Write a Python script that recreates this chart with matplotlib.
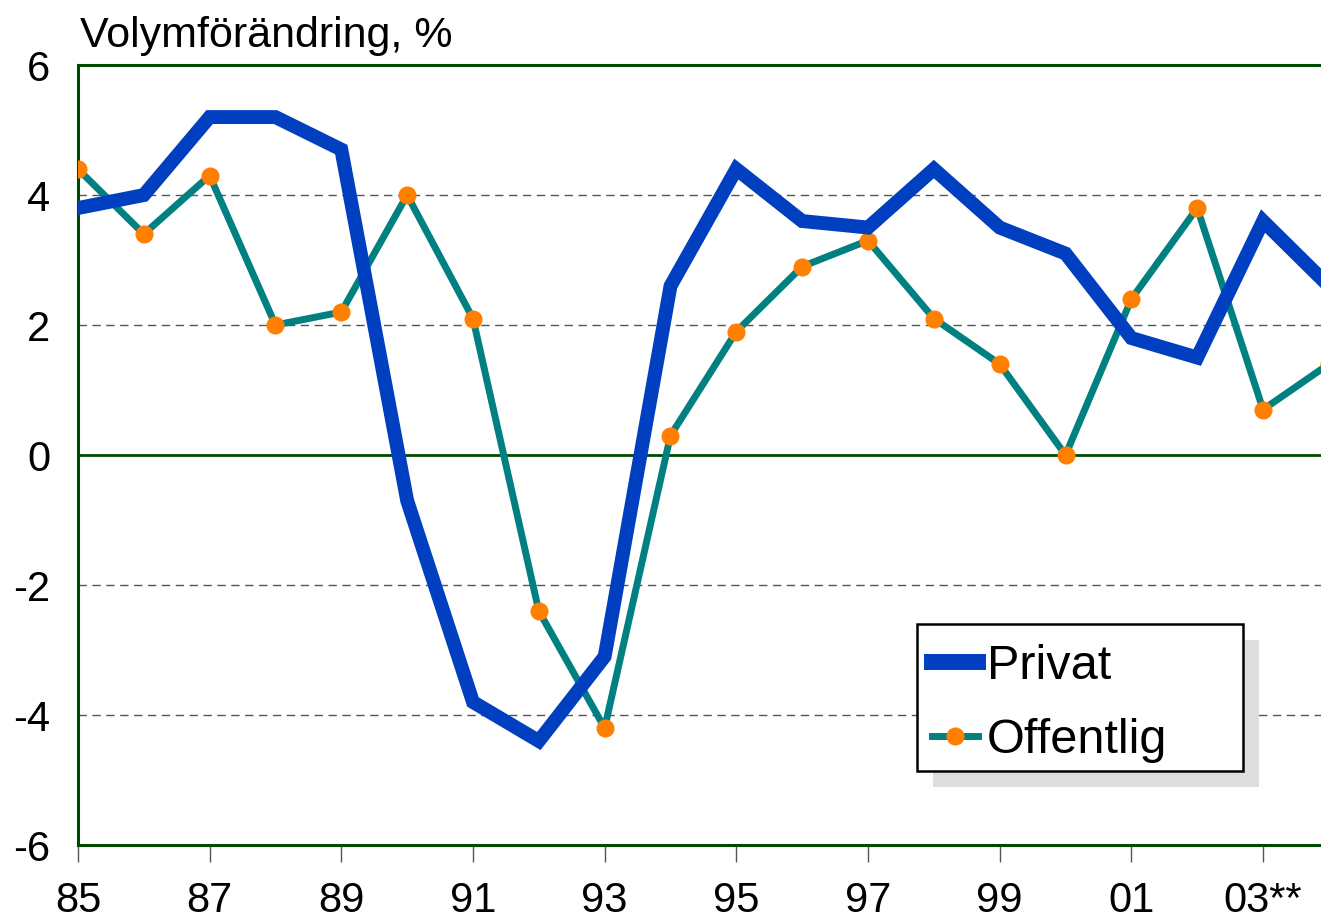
import matplotlib
matplotlib.use("Agg")
from matplotlib import pyplot as plt
from matplotlib.patches import Rectangle
from matplotlib.transforms import offset_copy

plt.rcParams['font.family'] = ['Liberation Sans', 'DejaVu Sans']
plt.rcParams['axes.unicode_minus'] = False

years = [1985, 1986, 1987, 1988, 1989, 1990, 1991, 1992, 1993, 1994,
         1995, 1996, 1997, 1998, 1999, 2000, 2001, 2002, 2003, 2004]
privat = [3.8, 4.0, 5.2, 5.2, 4.7, -0.7, -3.8, -4.4, -3.1, 2.6,
          4.4, 3.6, 3.5, 4.4, 3.5, 3.1, 1.8, 1.5, 3.6, 2.6]
offentlig = [4.4, 3.4, 4.3, 2.0, 2.2, 4.0, 2.1, -2.4, -4.2, 0.3,
             1.9, 2.9, 3.3, 2.1, 1.4, 0.0, 2.4, 3.8, 0.7, 1.4]
tick_years = [1985, 1987, 1989, 1991, 1993, 1995, 1997, 1999, 2001, 2003]
tick_labels = ['85', '87', '89', '91', '93', '95', '97', '99', '01', '03**']
y_ticks = [-6, -4, -2, 0, 2, 4, 6]

green = '#004a00'

fig = plt.figure(figsize=(13.21, 9.23), dpi=100)
ax = fig.add_axes([0.059, 0.0845, 0.941, 0.845])

for y in [-4, -2, 2, 4]:
    ax.axhline(y, color='#555555', linewidth=1, linestyle=(0, (6, 4)), zorder=1)
ax.axhline(0, color=green, linewidth=2, zorder=2)

ax.plot(years, offentlig, color='#008080', linewidth=5, marker='o',
        markersize=12, markerfacecolor='#ff8000', markeredgecolor='#ff8000',
        label='Offentlig', zorder=3)
ax.plot(years, privat, color='#0040c0', linewidth=10, solid_joinstyle='miter',
        label='Privat', zorder=4)

ax.set_xlim(1985, 2003.88)
ax.set_ylim(-6, 6)
ax.set_xticks(tick_years)
ax.set_xticklabels(tick_labels)
ax.set_yticks(y_ticks)
ax.tick_params(axis='x', length=12, width=1, color='#555555', pad=14, labelsize=30)
ax.tick_params(axis='y', length=0, pad=20, labelsize=30)

for s in ['left', 'bottom', 'top']:
    ax.spines[s].set_color(green)
    ax.spines[s].set_linewidth(2.2)
ax.spines['right'].set_visible(False)

# legend box with a flat gray shadow
box = (0.675, 0.095, 0.262, 0.188)
shadow = Rectangle(box[:2], box[2], box[3],
                   transform=offset_copy(ax.transAxes, fig, x=16, y=-16, units='dots'),
                   facecolor='#dddddd', edgecolor='none', zorder=8)
frame = Rectangle(box[:2], box[2], box[3], transform=ax.transAxes,
                  facecolor='white', edgecolor='black', linewidth=1.8, zorder=9)
ax.add_patch(shadow)
ax.add_patch(frame)

handles, labels = ax.get_legend_handles_labels()
leg = ax.legend(handles[::-1], labels[::-1], loc='center left',
                bbox_to_anchor=(0.687, 0.181), fontsize=35, frameon=False,
                handlelength=0.95, handletextpad=0.18, borderpad=0,
                labelspacing=0.6, borderaxespad=0)
leg.set_zorder(10)
leg.legend_handles[0].set_linewidth(11.5)

fig.text(80 / 1321, 1 - 47 / 923, 'Volymförändring, %', fontsize=31,
         ha='left', va='baseline')

fig.savefig('out.png', dpi=100)
